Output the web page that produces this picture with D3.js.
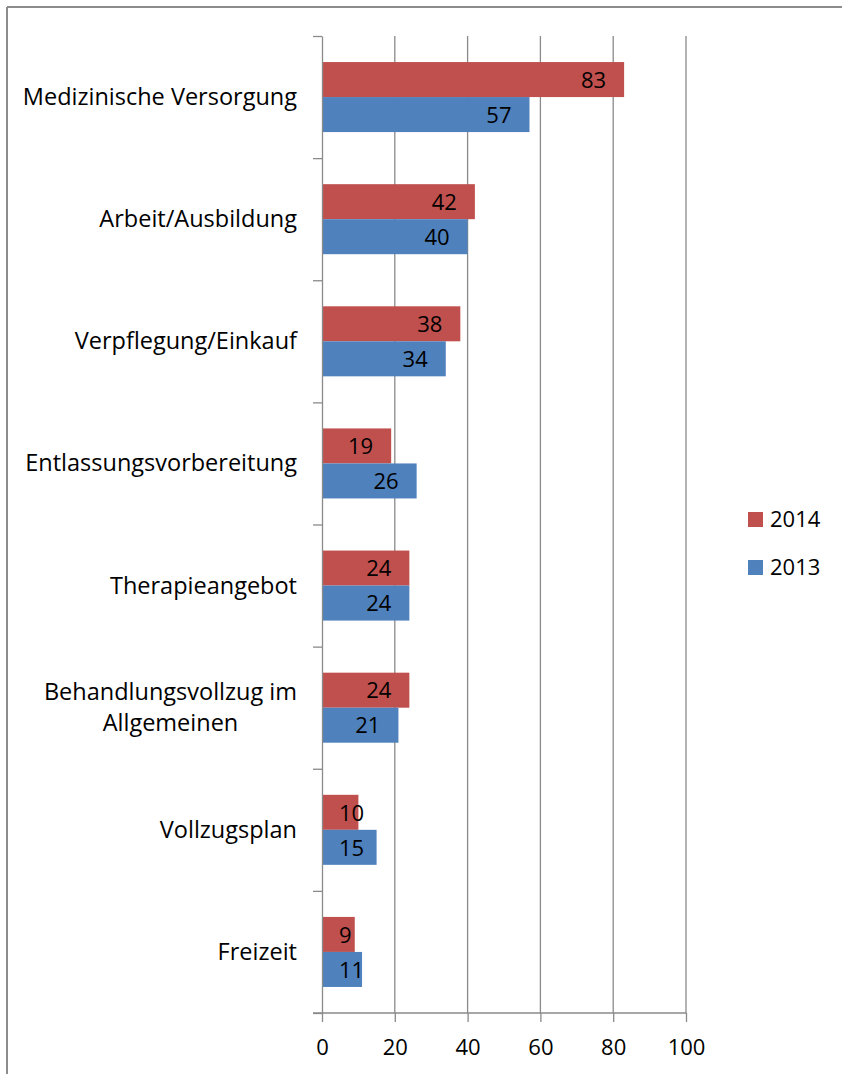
<!DOCTYPE html>
<html>
<head>
<meta charset="utf-8">
<script src="https://cdn.jsdelivr.net/npm/d3@7"></script>
<style>
  body { margin: 0; background: #fff; }
  text { font-family: "Open Sans", sans-serif; fill: #000; }
</style>
</head>
<body>
<div id="chart"></div>
<script>
// categories top to bottom
const categories = [
  "Medizinische Versorgung",
  "Arbeit/Ausbildung",
  "Verpflegung/Einkauf",
  "Entlassungsvorbereitung",
  "Therapieangebot",
  "Behandlungsvollzug im Allgemeinen",
  "Vollzugsplan",
  "Freizeit"
];
const values2014 = [83, 42, 38, 19, 24, 24, 10, 9];
const values2013 = [57, 40, 34, 26, 24, 21, 15, 11];
const seriesNames = ["2014", "2013"];
const xTicks = [0, 20, 40, 60, 80, 100];

const W = 842, H = 1074;
const plotL = 322, plotR = 686, plotT = 36, plotB = 1013;
const colors = { "2014": "#C0504D", "2013": "#4F81BD" };
const gridColor = "#8a8a8a";

const svg = d3.select("#chart").append("svg")
  .attr("width", W).attr("height", H);

// outer frame (only top and left visible)
svg.append("line").attr("x1", 7).attr("x2", W).attr("y1", 7).attr("y2", 7)
  .attr("stroke", "#8c8c8c").attr("stroke-width", 2);
svg.append("line").attr("x1", 7).attr("x2", 7).attr("y1", 7).attr("y2", H)
  .attr("stroke", "#8c8c8c").attr("stroke-width", 2);

const x = d3.scaleLinear().domain([0, 100]).range([plotL, plotR]);
const y0 = d3.scaleBand().domain(categories).range([plotT, plotB])
  .paddingInner(0.4266).paddingOuter(0.2133);
const y1 = d3.scaleBand().domain(seriesNames).range([0, y0.bandwidth()]);
const yIdx = d3.scaleLinear().domain([0, categories.length]).range([plotT, plotB]);

// gridlines
svg.append("g")
  .selectAll("line")
  .data(xTicks.slice(1))
  .enter().append("line")
  .attr("x1", d => x(d)).attr("x2", d => x(d))
  .attr("y1", plotT).attr("y2", plotB)
  .attr("stroke", gridColor).attr("stroke-width", 1.3);

// bars
const rows = categories.map((c, i) => ({ cat: c, vals: [
  { s: "2014", v: values2014[i] },
  { s: "2013", v: values2013[i] }
]}));

const groups = svg.append("g").selectAll("g")
  .data(rows).enter().append("g")
  .attr("transform", d => "translate(0," + y0(d.cat) + ")");

groups.selectAll("rect")
  .data(d => d.vals).enter().append("rect")
  .attr("x", x(0))
  .attr("y", d => y1(d.s))
  .attr("width", d => x(d.v) - x(0))
  .attr("height", y1.bandwidth())
  .attr("fill", d => colors[d.s]);

// data labels (inside end, kept clear of the axis)
groups.selectAll("text.val")
  .data(d => d.vals).enter().append("text")
  .attr("class", "val")
  .style("font-size", "22px")
  .attr("text-anchor", "end")
  .attr("y", d => y1(d.s) + y1.bandwidth() / 2 + 8.3)
  .text(d => d.v)
  .attr("x", function (d) {
    const w = this.getComputedTextLength();
    return Math.max(x(d.v) - 18, x(0) + 17 + w);
  });

// x axis
const xAxis = svg.append("g")
  .attr("transform", "translate(0," + plotB + ")")
  .call(d3.axisBottom(x).tickValues(xTicks).tickSize(9).tickSizeOuter(0).tickPadding(12));
xAxis.select(".domain").remove();
xAxis.selectAll(".tick line").attr("stroke", gridColor).attr("stroke-width", 1.3);
xAxis.selectAll(".tick text")
  .style("font-family", "'Open Sans', sans-serif").style("font-size", "22px").attr("fill", "#000")
  .attr("y", 26).attr("dy", "0.71em");

// y axis (ticks at category boundaries)
const yAxis = svg.append("g")
  .attr("transform", "translate(" + plotL + ",0)")
  .call(d3.axisLeft(yIdx).ticks(categories.length).tickSize(9).tickSizeOuter(0).tickFormat(""));
yAxis.select(".domain").attr("stroke", gridColor).attr("stroke-width", 1.3);
yAxis.selectAll(".tick line").attr("stroke", gridColor).attr("stroke-width", 1.3);

// bottom axis line
svg.append("line")
  .attr("x1", plotL - 9).attr("x2", plotR)
  .attr("y1", plotB).attr("y2", plotB)
  .attr("stroke", gridColor).attr("stroke-width", 1.3);

// category labels, wrapped to fit the label area
const labelRight = 297, maxW = 280, lineH = 31.5;
categories.forEach(c => {
  const t = svg.append("text").style("font-size", "23.5px").attr("text-anchor", "middle");
  const words = c.split(" ");
  let lines = [], cur = [];
  words.forEach(w => {
    cur.push(w);
    t.text(cur.join(" "));
    if (t.node().getComputedTextLength() > maxW && cur.length > 1) {
      cur.pop();
      lines.push(cur.join(" "));
      cur = [w];
    }
  });
  lines.push(cur.join(" "));
  t.text(null);
  let widest = 0;
  lines.forEach(l => {
    t.text(l);
    widest = Math.max(widest, t.node().getComputedTextLength());
  });
  t.text(null);
  const cx = labelRight - widest / 2;
  const cy = y0(c) + y0.bandwidth() / 2;
  const firstBase = cy + 8 - (lines.length - 1) * lineH / 2;
  lines.forEach((l, i) => {
    t.append("tspan").attr("x", cx).attr("y", firstBase + i * lineH).text(l);
  });
});

// legend
const legend = svg.append("g").selectAll("g")
  .data(seriesNames).enter().append("g")
  .attr("transform", (d, i) => "translate(748," + (512 + i * 48) + ")");
legend.append("rect").attr("width", 15).attr("height", 15).attr("fill", d => colors[d]);
legend.append("text").attr("x", 22).attr("y", 15).style("font-size", "22px").text(d => d);
</script>
</body>
</html>
